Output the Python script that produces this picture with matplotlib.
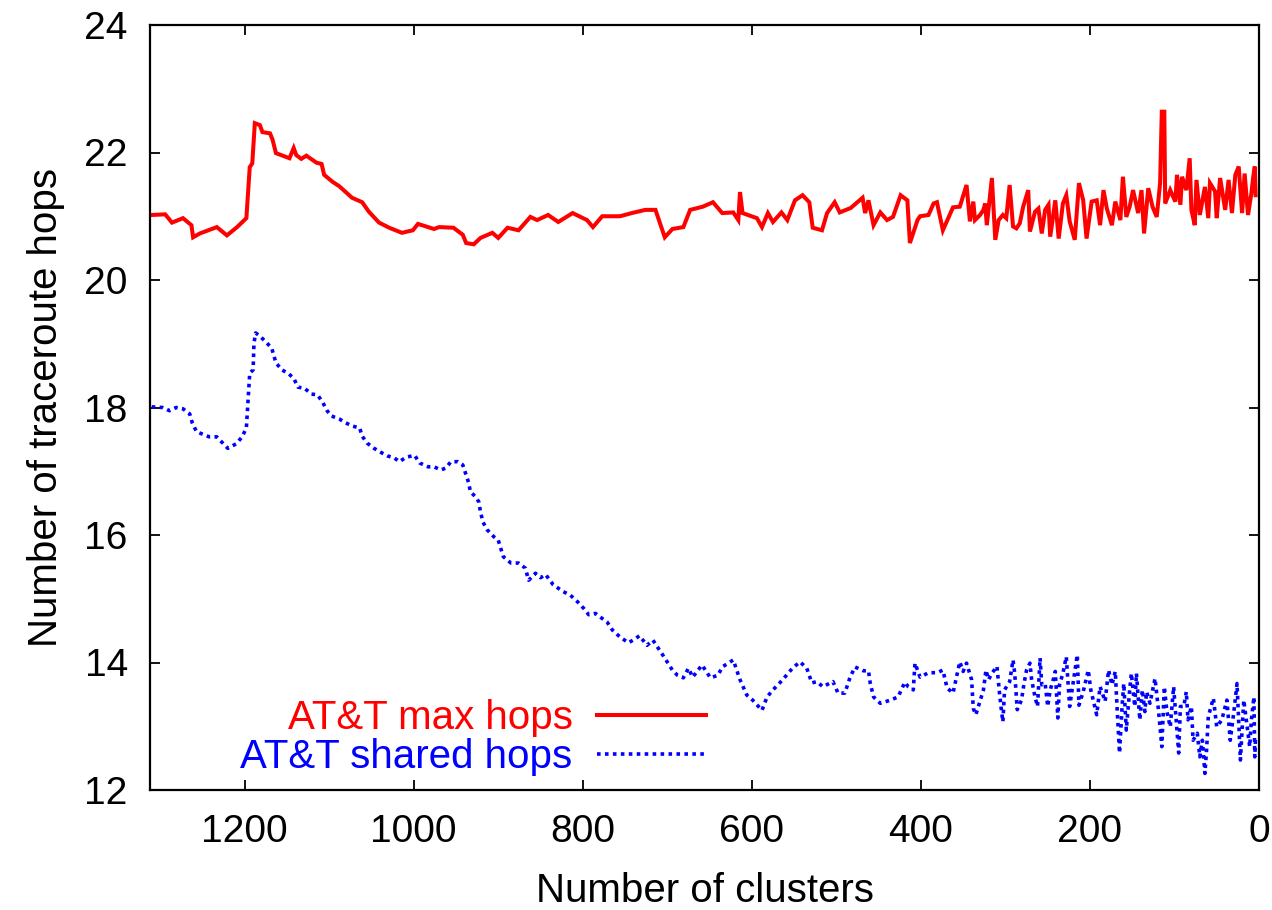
import numpy as np
import matplotlib
matplotlib.use("Agg")
import matplotlib.pyplot as plt

plt.rcParams['font.family'] = ['Liberation Sans', 'DejaVu Sans']

# AT&T max hops (red, solid)
max_clusters = [1310, 1294, 1286, 1273, 1263, 1261, 1253, 1233, 1221, 1209,
                1198, 1194, 1191, 1188, 1182, 1179, 1170, 1167, 1163, 1147,
                1142, 1139, 1133, 1127, 1115, 1109, 1106, 1096, 1088, 1073,
                1061, 1053, 1041, 1029, 1014, 1001, 995, 976, 970, 953,
                942, 938, 929, 921, 907, 900, 889, 876, 862, 854,
                841, 829, 812, 795, 788, 777, 756, 742, 726, 714,
                703, 694, 681, 673, 658, 646, 635, 622, 616, 614,
                611, 594, 588, 581, 575, 565, 558, 549, 540, 532,
                528, 517, 511, 502, 496, 483, 469, 466, 462, 456,
                448, 440, 433, 424, 416, 413, 404, 401, 391, 385,
                381, 374, 362,
                354, 346, 342, 338, 336, 330, 326, 324, 322, 316,
                312, 308, 303, 299, 295, 291, 287, 283, 279, 273,
                271, 265, 261, 257, 253, 249, 247, 241, 237, 232,
                228, 224, 218, 213, 208, 204, 198, 192, 188, 184,
                180, 174, 170, 164, 161, 157, 153, 149, 143, 139,
                136, 131, 126, 121, 117, 115, 112, 111, 105, 99,
                97, 93, 91, 86, 82, 80, 76, 74, 70, 64,
                60, 58, 52, 50, 46, 40, 36, 32, 28, 24,
                20, 17, 13, 9, 7, 5, 4]
max_hops = [21.02, 21.03, 20.90, 20.97, 20.86, 20.67, 20.73, 20.83, 20.70, 20.83,
            20.97, 21.77, 21.83, 22.46, 22.43, 22.32, 22.30, 22.20, 21.99, 21.91,
            22.07, 21.96, 21.90, 21.95, 21.84, 21.82, 21.65, 21.54, 21.47, 21.29,
            21.22, 21.07, 20.90, 20.82, 20.74, 20.78, 20.88, 20.80, 20.83, 20.82,
            20.71, 20.58, 20.56, 20.66, 20.74, 20.66, 20.82, 20.78, 20.99, 20.94,
            21.02, 20.91, 21.05, 20.94, 20.83, 21.00, 21.00, 21.05, 21.10, 21.10,
            20.67, 20.80, 20.83, 21.10, 21.15, 21.22, 21.05, 21.06, 20.94, 21.38,
            21.05, 20.97, 20.83, 21.05, 20.91, 21.06, 20.94, 21.25, 21.33, 21.22,
            20.82, 20.78, 21.05, 21.22, 21.06, 21.13, 21.29, 21.05, 21.25, 20.86,
            21.06, 20.94, 20.99, 21.33, 21.25, 20.58, 20.94, 21.00, 21.02, 21.20,
            21.22, 20.78, 21.14,
            21.15, 21.49, 20.92, 21.23, 20.94, 21.02, 21.10, 21.20, 20.86, 21.60,
            20.63, 20.94, 21.02, 20.97, 21.49, 20.84, 20.81, 20.89, 21.15, 21.41,
            20.76, 21.07, 21.12, 20.73, 21.10, 21.18, 20.68, 21.25, 20.65, 21.20,
            21.33, 20.92, 20.63, 21.52, 21.25, 20.65, 21.23, 21.25, 20.86, 21.41,
            21.12, 20.86, 21.23, 20.94, 21.62, 20.99, 21.15, 21.41, 21.05, 21.41,
            20.73, 21.44, 21.15, 20.99, 21.52, 22.64, 22.64, 21.20, 21.41, 21.23,
            21.65, 21.18, 21.62, 21.41, 21.91, 21.10, 20.86, 21.57, 21.02, 21.46,
            20.97, 21.52, 21.39, 20.97, 21.60, 21.10, 21.57, 21.05, 21.65, 21.78,
            21.05, 21.67, 21.02, 21.36, 21.60, 21.78, 21.33]

# AT&T shared hops (blue, dotted)
shared_clusters = [1310, 1297, 1289, 1281, 1273, 1265, 1262, 1257, 1242, 1233,
                   1220, 1210, 1203, 1198, 1196, 1194, 1190, 1189, 1187, 1182,
                   1175, 1168, 1163, 1156, 1149, 1142, 1137, 1129, 1121, 1114,
                   1108, 1103, 1098, 1088, 1082, 1073, 1064, 1061, 1055, 1047,
                   1038, 1031, 1023, 1017, 1009, 999, 993, 983, 976, 968,
                   962, 956, 948, 942, 938, 935, 933, 927, 923, 921,
                   918, 913, 905, 900, 894, 885, 876, 868, 864, 856,
                   850, 844, 835, 823, 815, 806, 799, 793, 785, 779,
                   771, 765, 756, 746, 738, 733, 724, 717, 711, 703,
                   694, 688, 681, 675, 670, 659, 649, 640, 635, 622,
                   614, 606, 599, 588, 582, 575, 567, 559, 552, 543,
                   535, 529, 523, 516, 504, 498, 490, 484, 478, 468,
                   462, 460, 456, 448, 436, 427, 419, 415, 409, 407,
                   401, 391, 381, 374, 369, 362,
                   354, 350, 346, 340, 338, 335, 332, 326, 323, 320,
                   316, 310, 307, 305, 303, 301, 295, 291, 289, 286,
                   281, 278, 275, 271, 269, 265, 262, 259, 257, 253,
                   250, 247, 243, 241, 238, 236, 232, 228, 224, 220,
                   215, 213, 208, 202, 199, 192, 188, 182, 178, 174,
                   170, 168, 165, 162, 160, 157, 153, 151, 147, 145,
                   141, 138, 135, 133, 129, 123, 119, 115, 112, 109,
                   105, 101, 95, 93, 89, 86, 84, 80, 78, 73,
                   70, 67, 64, 62, 60, 54, 50, 44, 38, 34,
                   30, 26, 22, 18, 14, 11, 9, 6, 5, 4]
shared_hops = [18.01, 18.00, 17.95, 18.00, 17.98, 17.90, 17.76, 17.62, 17.54, 17.54,
               17.36, 17.43, 17.54, 17.68, 18.12, 18.54, 18.59, 19.01, 19.17, 19.12,
               19.03, 18.93, 18.70, 18.59, 18.54, 18.46, 18.32, 18.30, 18.21, 18.20,
               18.09, 17.96, 17.87, 17.82, 17.77, 17.71, 17.68, 17.55, 17.44, 17.36,
               17.29, 17.24, 17.21, 17.15, 17.22, 17.25, 17.13, 17.07, 17.07, 17.02,
               17.05, 17.15, 17.15, 17.10, 16.94, 16.82, 16.68, 16.60, 16.52, 16.36,
               16.20, 16.08, 15.97, 15.92, 15.66, 15.56, 15.56, 15.48, 15.29, 15.40,
               15.33, 15.38, 15.22, 15.11, 15.06, 14.95, 14.85, 14.75, 14.77, 14.71,
               14.63, 14.51, 14.40, 14.31, 14.37, 14.42, 14.27, 14.35, 14.23, 14.07,
               13.88, 13.80, 13.76, 13.91, 13.77, 13.96, 13.76, 13.80, 13.93, 14.04,
               13.73, 13.49, 13.41, 13.25, 13.46, 13.57, 13.68, 13.80, 13.91, 14.01,
               13.91, 13.68, 13.70, 13.62, 13.70, 13.52, 13.52, 13.76, 13.93, 13.87,
               13.87, 13.68, 13.46, 13.36, 13.41, 13.46, 13.69, 13.62, 13.57, 13.99,
               13.77, 13.84, 13.84, 13.88, 13.60, 13.52,
               14.01, 13.86, 13.99, 13.73, 13.28, 13.18, 13.31, 13.57, 13.88, 13.73,
               13.83, 13.94, 13.52, 13.28, 13.07, 13.57, 13.70, 14.04, 13.83, 13.26,
               13.41, 13.67, 13.88, 13.99, 13.73, 13.46, 13.31, 14.07, 13.65, 13.67,
               13.31, 13.57, 13.75, 13.86, 13.13, 13.65, 13.83, 14.09, 13.31, 13.67,
               14.12, 13.33, 13.54, 13.88, 13.57, 13.18, 13.62, 13.39, 13.88, 13.65,
               13.86, 13.31, 12.58, 13.31, 13.67, 12.94, 13.57, 13.83, 13.31, 13.83,
               13.10, 13.57, 13.23, 13.54, 13.36, 13.75, 13.26, 12.68, 13.62, 13.23,
               12.99, 13.62, 12.58, 13.31, 13.31, 13.54, 13.10, 13.31, 12.78, 12.89,
               12.52, 12.78, 12.26, 12.63, 13.15, 13.44, 12.99, 13.10, 13.41, 12.78,
               13.20, 13.67, 12.47, 13.41, 12.99, 12.68, 13.10, 13.46, 12.52, 12.84]

x_ticks = [0, 200, 400, 600, 800, 1000, 1200]
y_ticks = [12, 14, 16, 18, 20, 22, 24]

fig = plt.figure(figsize=(12.72, 9.10), dpi=100)
ax = fig.add_axes([150 / 1272, 1 - 790 / 910, 1109 / 1272, 765 / 910])

ax.plot(max_clusters, max_hops, color='#ff0000', lw=2.9,
        solid_joinstyle='miter', label='AT&T max hops')
ax.plot(shared_clusters, shared_hops, color='#0000ff', lw=2.6,
        linestyle=(0, (1, 1.2)), dash_capstyle='butt', label='AT&T shared hops')

ax.set_xlim(1312, 0)
ax.set_ylim(12, 24)
ax.set_xticks(x_ticks)
ax.set_yticks(y_ticks)
ax.tick_params(direction='in', length=7, width=1.3, top=True, right=True,
               labelsize=28)
ax.tick_params(axis='x', pad=17)
ax.tick_params(axis='y', pad=16)
for s in ax.spines.values():
    s.set_linewidth(1.6)

ax.set_xlabel('Number of clusters', fontsize=29, labelpad=16)
ax.set_ylabel('Number of traceroute hops', fontsize=29, labelpad=14)

leg = ax.legend(loc='center right', bbox_to_anchor=(0.501, 0.0686),
                frameon=False, markerfirst=False, fontsize=29,
                handlelength=2.7, handletextpad=0.6, labelspacing=0.02,
                borderpad=0, borderaxespad=0, labelcolor='linecolor')

fig.savefig('out.png', dpi=100)
